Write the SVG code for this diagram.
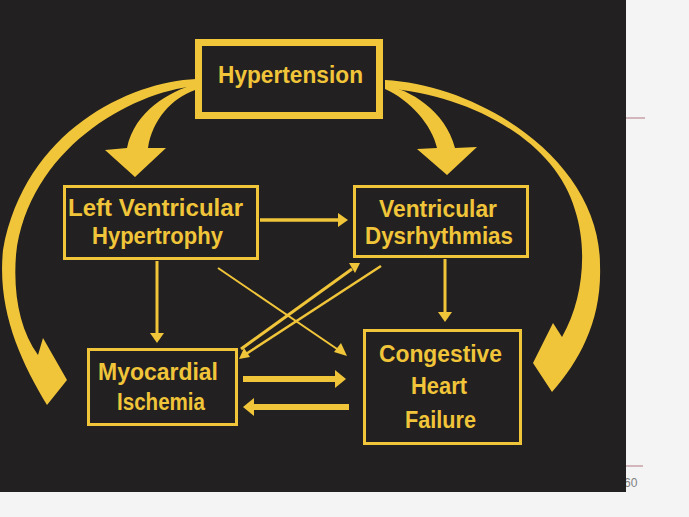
<svg xmlns="http://www.w3.org/2000/svg" width="689" height="517" viewBox="0 0 689 517">
  <style>
    .bx { fill: none; stroke: #f1c53a; stroke-width: 3; }
    .tx { fill: #f1c53a; font-family: "Liberation Sans", Arial, sans-serif; font-weight: bold; font-size: 23px; }
    .ln { stroke: #f1c53a; fill: none; }
    .hd { fill: #f1c53a; }
    .big { fill: #f1c53a; }
  </style>
  <rect x="0" y="0" width="689" height="517" fill="#f4f4f4"/>
  <line x1="626" y1="118" x2="645" y2="118" stroke="#c9a2aa" stroke-width="1.5"/>
  <line x1="626" y1="466" x2="643" y2="466" stroke="#c9a2aa" stroke-width="1.5"/>
  <text x="624" y="487" font-family="Liberation Sans, Arial, sans-serif" font-size="12" fill="#808080">60</text>
  <rect x="0" y="0" width="626" height="492" fill="#222020"/>

  <g id="connectors">
    <!-- big outer arcs -->
    <path class="big" d="M196,79 C130,82 25,130 3,250 C-3,310 20,360 47,405 L67,380 L43,338 L38,355 C20,330 13,295 16,255 C28,150 130,92 196,86 Z"/>
    <path class="big" d="M385,80 C480,85 600,160 600,265 C602,320 580,360 552,392 L533,363 L553,323 L562,337 C583,300 588,250 575,210 C555,140 470,95 385,88 Z"/>
    <!-- small curved arrows -->
    <path class="big" d="M195,84 C170,92 135,110 127,148 L105,150 L135,177 L166,148 L148,148 C152,120 172,98 195,90 Z"/>
    <path class="big" d="M385,85 C410,90 445,110 455,148 L477,147 L447,175 L417,149 L437,148 C432,125 410,100 385,89 Z"/>
    <!-- LVH -> VD -->
    <line class="ln" x1="260" y1="220" x2="340" y2="220" stroke-width="3.5"/>
    <polygon class="hd" points="338,213 348,220 338,227"/>
    <!-- LVH -> MI -->
    <line class="ln" x1="157" y1="261" x2="157" y2="335" stroke-width="3"/>
    <polygon class="hd" points="150,333 157,343 164,333"/>
    <!-- VD -> CHF -->
    <line class="ln" x1="445" y1="259" x2="445" y2="314" stroke-width="3"/>
    <polygon class="hd" points="438,312 445,322 452,312"/>
    <!-- LVH -> CHF -->
    <line class="ln" x1="218" y1="268" x2="340" y2="351" stroke-width="2"/>
    <polygon class="hd" points="334,352 347,356 341,343"/>
    <!-- MI -> VD -->
    <line class="ln" x1="241" y1="349" x2="352" y2="269" stroke-width="3"/>
    <polygon class="hd" points="349,263 360,263 355,273"/>
    <!-- VD -> MI -->
    <line class="ln" x1="381" y1="266" x2="246" y2="354" stroke-width="2.5"/>
    <polygon class="hd" points="239,359 244,348 250,357"/>
    <!-- MI -> CHF -->
    <line class="ln" x1="243" y1="379" x2="337" y2="379" stroke-width="6"/>
    <polygon class="hd" points="335,370 346,379 335,388"/>
    <!-- CHF -> MI -->
    <line class="ln" x1="349" y1="407" x2="252" y2="407" stroke-width="6"/>
    <polygon class="hd" points="254,398 243,407 254,416"/>
  </g>

  <g id="hypertension">
    <rect x="198.5" y="42.5" width="181" height="73" fill="#222020" stroke="#f1c53a" stroke-width="7"/>
    <text class="tx" x="218" y="83" font-size="24" textLength="145" lengthAdjust="spacingAndGlyphs">Hypertension</text>
  </g>
  <g id="lvh">
    <rect class="bx" x="64.5" y="186.5" width="193" height="72"/>
    <text class="tx" x="68" y="216" textLength="175" lengthAdjust="spacingAndGlyphs">Left Ventricular</text>
    <text class="tx" x="92" y="244" textLength="131" lengthAdjust="spacingAndGlyphs">Hypertrophy</text>
  </g>
  <g id="vd">
    <rect class="bx" x="354.5" y="186.5" width="173" height="70"/>
    <text class="tx" x="379" y="217" textLength="118" lengthAdjust="spacingAndGlyphs">Ventricular</text>
    <text class="tx" x="365" y="244" textLength="148" lengthAdjust="spacingAndGlyphs">Dysrhythmias</text>
  </g>
  <g id="mi">
    <rect class="bx" x="88.5" y="349.5" width="148" height="75"/>
    <text class="tx" x="98" y="380" textLength="120" lengthAdjust="spacingAndGlyphs">Myocardial</text>
    <text class="tx" x="117" y="410" textLength="88" lengthAdjust="spacingAndGlyphs">Ischemia</text>
  </g>
  <g id="chf">
    <rect class="bx" x="364.5" y="330.5" width="156" height="113"/>
    <text class="tx" x="379" y="362" textLength="123" lengthAdjust="spacingAndGlyphs">Congestive</text>
    <text class="tx" x="411" y="394" textLength="56" lengthAdjust="spacingAndGlyphs">Heart</text>
    <text class="tx" x="405" y="428" textLength="71" lengthAdjust="spacingAndGlyphs">Failure</text>
  </g>
</svg>
